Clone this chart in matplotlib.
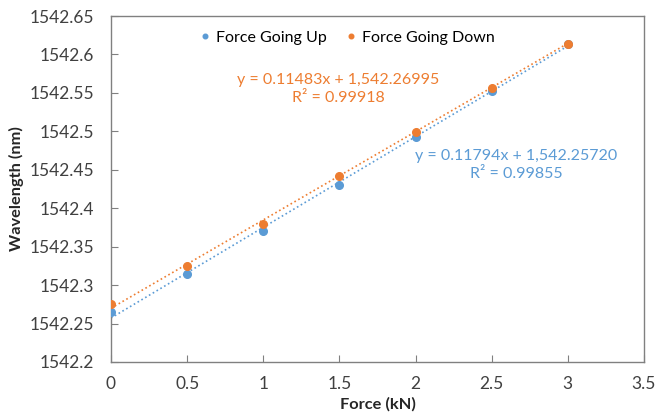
import numpy as np
import matplotlib
matplotlib.use("Agg")
import matplotlib.pyplot as plt

plt.rcParams['font.family'] = ['Lato', 'DejaVu Sans']

# data
force = [0, 0.5, 1, 1.5, 2, 2.5, 3]
wl_up = [1542.265, 1542.315, 1542.370, 1542.430, 1542.493, 1542.553, 1542.613]
wl_down = [1542.275, 1542.325, 1542.379, 1542.442, 1542.499, 1542.557, 1542.614]

# trendline coefficients as printed
up_fit = (0.11794, 1542.25720, 0.99855)
down_fit = (0.11483, 1542.26995, 0.99918)

blue = '#5B9BD5'
orange = '#ED7D31'

fig = plt.figure(figsize=(6.68, 4.16), dpi=100)
ax = fig.add_axes([111/668, 1 - 362/416, 533/668, 346/416])

x = np.array(force)
ax.plot(x, up_fit[0]*x + up_fit[1], ':', color=blue, lw=1.2, zorder=2)
ax.plot(x, down_fit[0]*x + down_fit[1], ':', color=orange, lw=1.2, zorder=2)
ax.plot(force, wl_up, 'o', color=blue, ms=5.5, label='Force Going Up', zorder=3)
ax.plot(force, wl_down, 'o', color=orange, ms=5.5, label='Force Going Down', zorder=4)

ax.set_xlim(0, 3.5)
ax.set_ylim(1542.2, 1542.65)
ax.set_xticks(np.arange(0, 3.51, 0.5))
ax.set_xticklabels(['0', '0.5', '1', '1.5', '2', '2.5', '3', '3.5'])
yt = np.arange(1542.2, 1542.651, 0.05)
ax.set_yticks(yt)
ax.set_yticklabels(['1542.2', '1542.25', '1542.3', '1542.35', '1542.4',
                    '1542.45', '1542.5', '1542.55', '1542.6', '1542.65'])
ax.tick_params(direction='in', length=5, color='#808080', labelsize=12.5,
               labelcolor='#404040')
ax.tick_params(axis='y', pad=12)
ax.tick_params(axis='x', pad=10)
for s in ax.spines.values():
    s.set_color('#808080')
    s.set_linewidth(1.0)

ax.set_xlabel('Force (kN)', fontsize=11.8, fontweight='bold', color='#262626', labelpad=4)
ax.set_ylabel('Wavelength (nm)', fontsize=11.8, fontweight='bold', color='#262626', labelpad=4)

ax.legend(loc='upper center', bbox_to_anchor=(0.44, 1.0), ncol=2, frameon=False,
          fontsize=11.5, handletextpad=0.1, columnspacing=1.0, markerscale=0.6,
          handlelength=1.1)

ax.text(338/668, 1 - 89/416, 'y = %.5fx + 1,542.%s\nR² = %.5f' % (down_fit[0], '26995', down_fit[2]),
        transform=fig.transFigure, ha='center', va='center', color=orange,
        fontsize=11.5, linespacing=1.45)
ax.text(516/668, 1 - 165/416, 'y = %.5fx + 1,542.%s\nR² = %.5f' % (up_fit[0], '25720', up_fit[2]),
        transform=fig.transFigure, ha='center', va='center', color=blue,
        fontsize=11.5, linespacing=1.45)

fig.savefig('out.png', dpi=100)
